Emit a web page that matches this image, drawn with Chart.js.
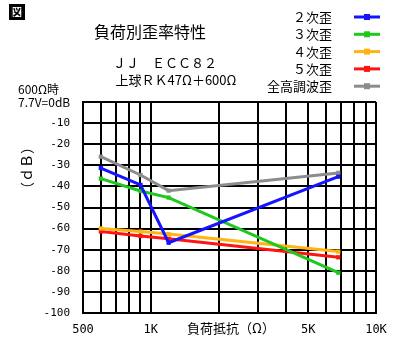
<!DOCTYPE html>
<html><head><meta charset="utf-8">
<script src="https://cdn.jsdelivr.net/npm/chart.js@4"></script>
<style>html,body{margin:0;padding:0;background:#fff}canvas{display:block}</style>
</head><body>
<canvas id="c" width="400" height="350"></canvas>
<script>
const loads = [600, 900, 1200, 6800];
const seriesNames = ['２次歪', '３次歪', '４次歪', '５次歪', '全高調波歪'];
const h2 = [-31.3, -39.3, -66.7, -35.4];
const h3 = [-36.3, -42.2, -45.3, -80.9];
const h4 = [-59.9, -61.4, -62.6, -70.9];
const h5 = [-61.4, -63.5, -64.8, -73.6];
const thd = [-25.9, -34.6, -42.0, -33.6];
const colors = ['#1414ff', '#1ec81e', '#ffb414', '#ff1414', '#8c8c8c'];
const xTickValues = [500,600,700,800,900,1000,2000,3000,4000,5000,6000,7000,8000,9000,10000];
const xTickLabels = {500:'500', 1000:'1K', 5000:'5K', 10000:'10K'};
const yTickValues = [0,-10,-20,-30,-40,-50,-60,-70,-80,-90,-100];

const JP = '"Noto Sans CJK JP", sans-serif';
const MONO = '"DejaVu Sans Mono", monospace';

const allSeries = [h2, h3, h4, h5, thd];
const datasets = allSeries.map((arr, i) => ({
  label: seriesNames[i],
  data: arr.map((v, j) => ({x: loads[j], y: v})),
  borderColor: colors[i],
  backgroundColor: colors[i],
  borderWidth: 3,
  pointStyle: 'rect',
  pointRadius: 3,
  pointBorderWidth: 0,
  tension: 0
}));

const extras = {
  id: 'extras',
  afterDraw(chart) {
    const ctx = chart.ctx;
    ctx.save();
    ctx.fillStyle = '#000';
    // icon
    ctx.font = 'bold 14px ' + JP;
    ctx.textAlign = 'center'; ctx.textBaseline = 'middle';
    ctx.fillText('図', 17, 12);
    ctx.lineWidth = 2; ctx.strokeStyle = '#000';
    ctx.strokeRect(10, 5, 14, 14);
    // titles
    ctx.font = '16px ' + JP;
    ctx.fillText('負荷別歪率特性', 150, 32);
    ctx.font = '13px ' + JP;
    ctx.fillText('ＪＪ　ＥＣＣ８２', 165, 63);
    ctx.font = '13px ' + JP;
    ctx.fillText('上球ＲＫ47Ω＋600Ω', 176, 80);
    // 0dB note
    ctx.textAlign = 'left';
    ctx.font = '12px ' + JP;
    ctx.fillText('600Ω時', 18, 89);
    ctx.fillText('7.7V=0dB', 18, 102);
    // x title
    ctx.textAlign = 'center';
    ctx.font = '13px ' + JP;
    ctx.fillText('負荷抵抗（Ω）', 231, 328);
    // y title
    ctx.save();
    ctx.translate(27, 168);
    ctx.rotate(-Math.PI / 2);
    ctx.font = '14px ' + JP;
    ctx.fillText('（ｄＢ）', 0, 0);
    ctx.restore();
    // legend
    chart.data.datasets.forEach((ds, i) => {
      const y = 17 + i * 17.3;
      ctx.textAlign = 'right';
      ctx.font = '13px ' + JP;
      ctx.fillStyle = '#000';
      ctx.fillText(ds.label, 332, y);
      ctx.strokeStyle = ds.borderColor;
      ctx.lineWidth = 3;
      ctx.beginPath(); ctx.moveTo(354, y); ctx.lineTo(380, y); ctx.stroke();
      ctx.fillStyle = ds.borderColor;
      ctx.fillRect(364, y - 3, 6, 6);
    });
    ctx.restore();
  }
};

new Chart(document.getElementById('c'), {
  type: 'line',
  data: { datasets },
  options: {
    responsive: false,
    animation: false,
    devicePixelRatio: 1,
    layout: { padding: { left: 0, top: 102, right: 24, bottom: 0 } },
    plugins: { legend: { display: false }, tooltip: { enabled: false }, title: { display: false } },
    scales: {
      x: {
        type: 'logarithmic',
        min: 500, max: 10000,
        afterBuildTicks: (s) => { s.ticks = xTickValues.map(v => ({value: v})); },
        afterFit: (s) => { s.height = 37; },
        grid: { color: '#000', lineWidth: 2, drawTicks: false },
        border: { color: '#000', width: 2 },
        ticks: {
          autoSkip: false, maxRotation: 0, padding: 10,
          color: '#000', font: { family: MONO, size: 12 },
          callback: (v) => xTickLabels[v] || ''
        }
      },
      y: {
        type: 'linear',
        min: -100, max: 0,
        afterBuildTicks: (s) => { s.ticks = yTickValues.map(v => ({value: v})); },
        afterFit: (s) => { s.width = 83; },
        grid: { color: '#000', lineWidth: 2, drawTicks: false },
        border: { color: '#000', width: 2 },
        ticks: {
          padding: 13, color: '#000', font: { family: MONO, size: 11 },
          callback: (v) => v === 0 ? '' : String(v)
        }
      }
    }
  },
  plugins: [extras]
});
</script>
</body></html>
